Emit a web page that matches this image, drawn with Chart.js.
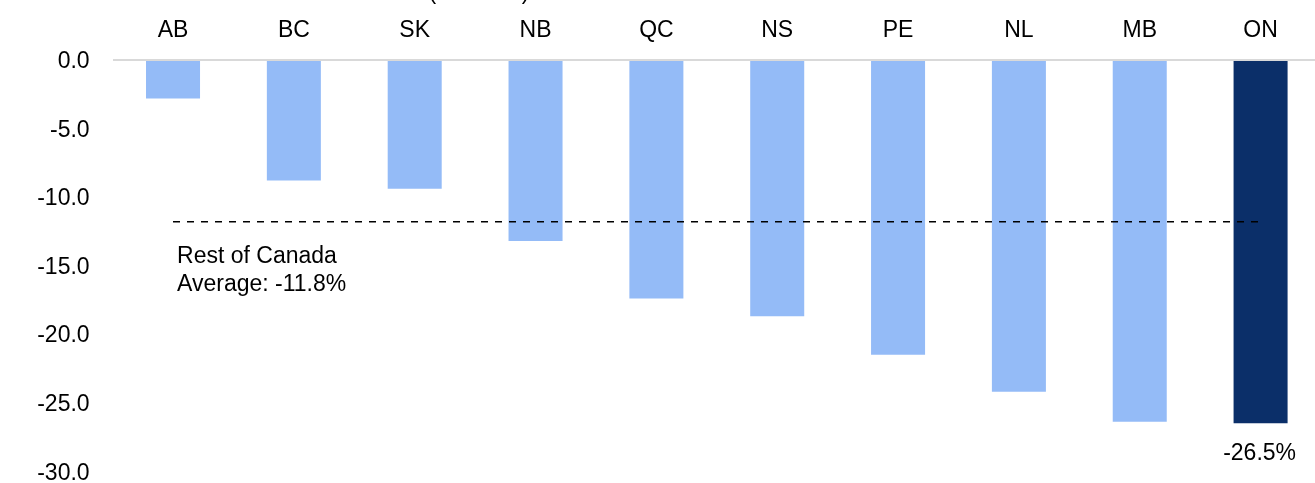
<!DOCTYPE html>
<html>
<head>
<meta charset="utf-8">
<script src="https://cdn.jsdelivr.net/npm/chart.js@4"></script>
<style>
  html, body { margin: 0; padding: 0; background: #fff; overflow: hidden; }
  #wrap { width: 1315px; height: 483px; overflow: hidden; }
  #c { display: block; }
</style>
</head>
<body>
<div id="wrap"><canvas id="c" width="1321" height="508" style="width:1321px;height:508px"></canvas></div>
<script>
const categories = ['AB', 'BC', 'SK', 'NB', 'QC', 'NS', 'PE', 'NL', 'MB', 'ON'];
const changeValues = [-2.8, -8.8, -9.4, -13.2, -17.4, -18.7, -21.5, -24.2, -26.4, -26.5];
const restOfCanadaAverage = -11.8;
const averageLine = categories.map(() => restOfCanadaAverage);
const yTicks = [0, -5, -10, -15, -20, -25, -30];
const highlight = 'ON';
const titleText = '(Per cent)';
const avgLabelLines = ['Rest of Canada', 'Average: -11.8%'];
const onLabel = '-26.5%';

const FONT = '"Liberation Sans", Arial, sans-serif';
const FSIZE = 23;
const LIGHT = '#94BBF7';
const DARK = '#0B2F69';

const textPlugin = {
  id: 'texts',
  afterDraw(chart) {
    const ctx = chart.ctx;
    const x = chart.scales.x, y = chart.scales.y;
    ctx.save();
    ctx.fillStyle = '#000';
    ctx.font = FSIZE + 'px ' + FONT;
    ctx.textAlign = 'center';
    ctx.textBaseline = 'alphabetic';
    ctx.fillText(titleText, 479, -1);
    ctx.textAlign = 'left';
    const ax = x.getPixelForValue(0) + 4;
    const ay = y.getPixelForValue(restOfCanadaAverage);
    ctx.fillText(avgLabelLines[0], ax, ay + 41);
    ctx.fillText(avgLabelLines[1], ax, ay + 69);
    const idx = categories.indexOf(highlight);
    ctx.textAlign = 'center';
    ctx.fillText(onLabel, x.getPixelForValue(idx) - 1, y.getPixelForValue(changeValues[idx]) + 37);
    ctx.restore();
  }
};

new Chart(document.getElementById('c'), {
  type: 'bar',
  data: {
    labels: categories,
    datasets: [
      {
        type: 'line',
        data: averageLine,
        borderColor: '#000',
        borderWidth: 1.5,
        borderDash: [7, 7],
        pointRadius: 0,
        fill: false,
        order: 0
      },
      {
        type: 'bar',
        data: changeValues,
        backgroundColor: categories.map(c => c === highlight ? DARK : LIGHT),
        borderWidth: 0,
        categoryPercentage: 1,
        barPercentage: 0.447,
        order: 1
      }
    ]
  },
  options: {
    responsive: false,
    maintainAspectRatio: false,
    devicePixelRatio: 1,
    animation: false,
    layout: { padding: { left: 0, right: 0, top: 0, bottom: 13 } },
    plugins: { legend: { display: false }, tooltip: { enabled: false }, title: { display: false } },
    scales: {
      x: {
        position: 'top',
        grid: { display: false, drawTicks: false },
        border: { display: false },
        ticks: { color: '#000', font: { family: FONT, size: FSIZE }, padding: 16, maxRotation: 0 },
        afterFit(scale) { scale.height = 60; }
      },
      y: {
        min: -30,
        max: 0,
        afterBuildTicks(scale) { scale.ticks = yTicks.map(v => ({ value: v })); },
        grid: {
          drawTicks: false,
          color: c => (c.tick && c.tick.value === 0) ? '#D9D9D9' : 'rgba(0,0,0,0)',
          lineWidth: 2
        },
        border: { display: false },
        ticks: {
          color: '#000',
          font: { family: FONT, size: FSIZE },
          padding: 23,
          labelOffset: 2,
          callback: v => Number(v).toFixed(1)
        },
        afterFit(scale) { scale.width = 112.6; }
      }
    }
  },
  plugins: [textPlugin]
});
</script>
</body>
</html>
